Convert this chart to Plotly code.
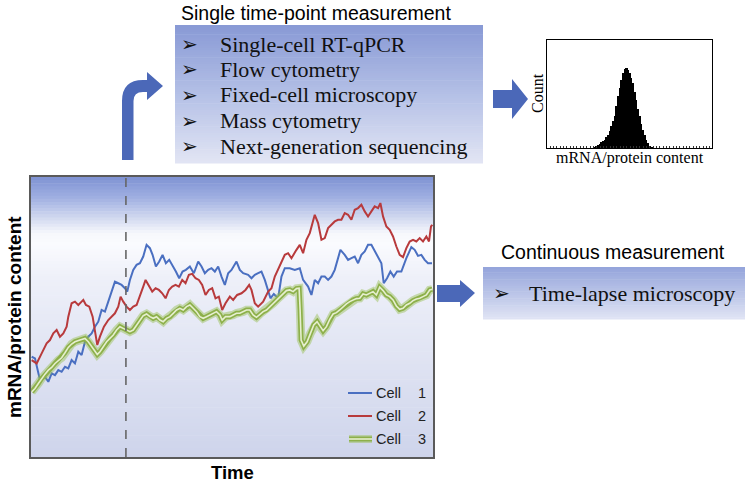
import plotly.graph_objects as go

W, H = 750, 485

# ---------------- data (arbitrary units) ----------------
cell1_t = [2,12,27,42,52,62,72,82,92,102,112,122,132,142,152,162,172,182,192,202,212,222,232,242,252,262,272,282,289,297,
           307,317,327,337,347,357,365,375,385,395,405,415,425,435,445,455,465,477,489,502,512,522,532,542,552,562,572,582,592,602,
           617,627,637,652,662,672,682,692,702,712,719,729,742,752,762,777,792,807,817,832,842,852,862,872,882,892,902,912,922,929,
           942,952,962,972,982,992,1002,1012,1022,1032,1042,1052,1059,1069,1079,1089,1099,1112,1127,1142,1152,1162,1172,1182,1192,1204]
cell1_v = [300,295,230,240,225,250,245,260,255,270,265,290,280,315,305,345,360,370,390,405,440,435,465,495,525,520,515,505,495,530,
           560,575,580,600,635,625,605,570,585,605,580,590,570,555,535,555,560,570,550,585,570,550,560,565,555,570,540,515,550,560,
           585,560,550,545,535,545,550,555,530,500,475,488,475,540,565,565,560,565,530,510,485,530,520,540,540,530,540,560,595,620,
           605,590,595,600,580,605,615,635,635,615,595,580,520,535,555,540,555,555,595,628,620,602,605,590,580,580]

cell2_t = [2,17,32,47,57,67,77,87,97,107,112,122,132,142,152,157,165,175,185,192,199,207,219,232,242,252,262,269,277,287,
           297,307,317,327,337,344,354,364,374,384,394,404,414,424,434,444,454,464,474,484,494,504,514,524,534,544,554,564,574,584,
           597,607,619,632,644,655,662,672,682,697,712,722,732,742,752,762,772,782,797,807,817,827,837,852,862,872,882,892,902,912,
           922,932,942,952,962,972,982,992,1002,1012,1022,1032,1042,1049,1057,1067,1077,1087,1097,1107,1117,1127,1137,1147,1157,1167,
           1177,1187,1195,1201,1205]
cell2_v = [290,280,310,340,350,370,380,360,370,390,420,460,465,455,465,470,455,450,420,370,335,360,390,410,420,430,450,480,465,450,
           440,450,455,480,510,530,510,495,505,500,490,475,500,510,515,510,530,520,545,548,535,530,515,485,500,505,475,480,440,460,
           480,470,485,490,500,515,500,460,450,465,495,505,540,560,585,605,610,595,620,635,610,650,670,725,700,650,655,685,695,705,
           710,710,730,725,710,740,745,755,735,720,735,750,745,760,720,690,680,660,630,605,598,625,645,650,645,655,
           645,660,645,690,695]

cell3_t = [2,12,22,32,42,52,62,72,82,92,102,112,122,132,147,162,172,182,192,199,207,217,227,237,247,257,267,277,287,297,
           307,317,327,337,347,357,367,377,387,397,407,417,427,437,447,457,467,477,487,497,507,517,527,537,547,557,567,574,584,597,
           607,617,627,637,647,657,667,677,687,697,707,717,727,737,747,757,767,777,787,797,805,808,811,819,829,839,849,859,869,877,
           887,897,907,917,927,937,947,957,967,977,987,997,1007,1017,1027,1037,1047,1057,1067,1077,1087,1097,1107,1117,1127,1137,
           1147,1157,1167,1177,1187,1197,1205]
cell3_v = [195,205,220,235,248,260,268,280,290,297,312,328,338,345,350,355,345,330,315,307,315,330,345,355,365,380,390,385,380,375,
           380,395,410,423,428,420,415,420,410,405,415,420,430,440,445,440,450,455,445,435,420,415,420,425,430,435,425,410,420,420,
           425,430,430,435,440,440,425,418,428,435,440,450,460,470,480,488,498,500,495,504,505,440,350,332,345,370,395,405,388,378,
           390,412,428,432,440,450,458,465,470,474,475,488,485,490,495,485,508,498,485,480,470,452,442,445,455,460,
           468,473,475,480,485,500,502]

hist_content = [34.5,35.0,35.5,36.0,36.5,37.0,37.5,38.0,38.5,39.0,39.5,40.0,40.5,41.0,41.5,42.0,42.5,43.0,
                43.5,44.0,44.5,45.0,45.5,46.0,46.5,47.0,47.5,48.0,48.5,49.0,49.5,50.0,50.5,51.0,51.5,52.0]
hist_count = [2,4,8,12,18,22,25,32,40,52,65,80,95,125,155,180,205,225,
              238,242,236,225,210,195,170,145,118,95,72,55,38,25,14,7,3,1]

snapshot_time = 285

single_methods = ["Single-cell RT-qPCR", "Flow cytometry", "Fixed-cell microscopy",
                  "Mass cytometry", "Next-generation sequencing"]
continuous_methods = ["Time-lapse microscopy"]
cell_labels = ["1", "2", "3"]

# ---------------- helpers ----------------
def fx(x):
    return x / W

def fy(y):
    return 1 - y / H

def P(x, y):
    return f"{fx(x):.5f},{fy(y):.5f}"

def interp(stops, f):
    for i in range(len(stops) - 1):
        a, ca = stops[i]
        b, cb = stops[i + 1]
        if a <= f <= b:
            t = (f - a) / (b - a) if b > a else 0
            c = [round(ca[k] + (cb[k] - ca[k]) * t) for k in range(3)]
            return f"rgb({c[0]},{c[1]},{c[2]})"
    c = stops[-1][1]
    return f"rgb({c[0]},{c[1]},{c[2]})"

shapes = []

def gradient(x0, x1, y0, y1, stops, n=60):
    for i in range(n):
        ya = y0 + (y1 - y0) * i / n
        yb = y0 + (y1 - y0) * (i + 1) / n
        f = (i + 0.5) / n
        shapes.append(dict(type="rect", xref="paper", yref="paper",
                           x0=fx(x0), x1=fx(x1), y0=fy(yb + 0.6), y1=fy(ya),
                           fillcolor=interp(stops, f), line_width=0, layer="below"))

# gradients
gradient(31, 433, 177, 457, [(0.0, (126, 146, 211)), (0.07, (158, 174, 225)), (0.14, (205, 213, 238)),
                              (0.2, (246, 247, 252)), (0.24, (250, 251, 254)), (0.36, (238, 240, 249)),
                              (1.0, (206, 212, 235))], n=90)
gradient(175, 483, 25, 163, [(0.0, (136, 153, 213)), (0.5, (180, 192, 230)), (1.0, (226, 229, 244))], n=60)
gradient(483, 745, 267, 319, [(0.0, (148, 164, 219)), (1.0, (224, 228, 244))], n=30)

arrow_col = "#4b68b8"
# bent arrow
shapes.append(dict(type="path", xref="paper", yref="paper", layer="above",
                   path=(f"M{P(122,160)} L{P(122,101)} Q{P(122,80)} {P(143,80)} L{P(147,80)} L{P(147,72)} "
                         f"L{P(163,86)} L{P(147,100)} L{P(147,92)} L{P(143,92)} Q{P(133.5,92)} {P(133.5,101)} "
                         f"L{P(133.5,160)} Z"),
                   fillcolor=arrow_col, line_width=0))
# right arrow to histogram
shapes.append(dict(type="path", xref="paper", yref="paper", layer="above",
                   path=(f"M{P(493,90)} L{P(512,90)} L{P(512,79)} L{P(528,99)} L{P(512,119)} "
                         f"L{P(512,108)} L{P(493,108)} Z"),
                   fillcolor=arrow_col, line_width=0))
# right arrow to continuous
shapes.append(dict(type="path", xref="paper", yref="paper", layer="above",
                   path=(f"M{P(437,285)} L{P(460,285)} L{P(460,280)} L{P(475,293)} L{P(460,307)} "
                         f"L{P(460,302)} L{P(437,302)} Z"),
                   fillcolor=arrow_col, line_width=0))

# snapshot dashed line
shapes.append(dict(type="line", xref="x", yref="paper", x0=snapshot_time, x1=snapshot_time,
                   y0=fy(457), y1=fy(177), line=dict(color="#666666", width=1.6, dash="dash"), layer="above"))

blue_c = "#4a6fc1"
red_c = "#b83a3c"
green_halo = "rgba(150,190,80,0.45)"
green_main = "#8db04a"
green_core = "#e6efcf"

# manual legend
leg_rows = [393, 416, 439]
shapes.append(dict(type="line", xref="paper", yref="paper", x0=fx(348), x1=fx(372), y0=fy(leg_rows[0]), y1=fy(leg_rows[0]),
                   line=dict(color=blue_c, width=2)))
shapes.append(dict(type="line", xref="paper", yref="paper", x0=fx(348), x1=fx(372), y0=fy(leg_rows[1]), y1=fy(leg_rows[1]),
                   line=dict(color=red_c, width=2)))
for col, wd in [(green_halo, 8), (green_main, 5), (green_core, 1.6)]:
    shapes.append(dict(type="line", xref="paper", yref="paper", x0=fx(349), x1=fx(372), y0=fy(leg_rows[2]), y1=fy(leg_rows[2]),
                       line=dict(color=col, width=wd)))

# ---------------- traces ----------------
fig = go.Figure()
fig.add_trace(go.Scatter(x=cell1_t, y=cell1_v, mode="lines", line=dict(color=blue_c, width=2), name="Cell 1",
                         showlegend=False, hoverinfo="skip"))
fig.add_trace(go.Scatter(x=cell2_t, y=cell2_v, mode="lines", line=dict(color=red_c, width=2), name="Cell 2",
                         showlegend=False, hoverinfo="skip"))
for col, wd in [(green_halo, 8.5), (green_main, 5), (green_core, 1.6)]:
    fig.add_trace(go.Scatter(x=cell3_t, y=cell3_v, mode="lines", line=dict(color=col, width=wd), name="Cell 3",
                             showlegend=False, hoverinfo="skip"))

fig.add_trace(go.Bar(x=hist_content, y=hist_count, marker=dict(color="black", line_width=0), width=0.5,
                     xaxis="x2", yaxis="y2", showlegend=False, hoverinfo="skip"))

# ---------------- annotations ----------------
sans = "Liberation Sans, Arial, sans-serif"
serif = "Liberation Serif, Times New Roman, serif"
ann = []

def txt(text, x, y, size, family, xanchor="center", color="black", angle=0, bold=False):
    ann.append(dict(text=(f"<b>{text}</b>" if bold else text), x=fx(x), y=fy(y), xref="paper", yref="paper",
                    xanchor=xanchor, yanchor="middle", showarrow=False, textangle=angle,
                    font=dict(size=size, family=family, color=color)))

txt("Single time-point measurement", 316, 13, 19.5, sans)
rows = [44, 69.5, 95, 120.5, 146]
for r, m in zip(rows, single_methods):
    txt("➢", 189, r, 20, "DejaVu Sans", color="#111111")
    txt(m, 218, r, 22, serif, xanchor="left", color="#111111")

txt("Continuous measurement", 613, 252, 19.5, sans)
txt("➢", 501, 293, 20, "DejaVu Sans", color="#111111")
txt(continuous_methods[0], 527, 293, 22, serif, xanchor="left", color="#111111")

txt("Count", 538, 93, 16, serif, angle=-90)
txt("mRNA/protein content", 630, 158, 16, serif)

txt("mRNA/protein content", 14, 317, 19, sans, angle=-90, bold=True)
txt("Time", 233, 472, 18.5, sans, bold=True)

for r, lab in zip(leg_rows, cell_labels):
    txt("Cell", 374, r, 14.5, sans, xanchor="left", color="#222222")
    txt(lab, 422, r, 14.5, sans, color="#222222")

axis_common = dict(showgrid=False, zeroline=False, showticklabels=False, fixedrange=True)

fig.update_layout(
    width=W, height=H,
    margin=dict(l=0, r=0, t=0, b=0),
    paper_bgcolor="white",
    plot_bgcolor="rgba(0,0,0,0)",
    showlegend=False,
    shapes=shapes,
    annotations=ann,
    bargap=0,
    xaxis=dict(domain=[fx(31), fx(433)], range=[0, 1207], showline=True, mirror=True,
               linecolor="#5a5a5a", linewidth=1.5, ticks="", anchor="y", **axis_common),
    yaxis=dict(domain=[fy(457), fy(177)], range=[0, 838], showline=True, mirror=True,
               linecolor="#5a5a5a", linewidth=1.5, ticks="", anchor="x", **axis_common),
    xaxis2=dict(domain=[fx(547), fx(712)], range=[20, 69.7], showline=True, mirror=True,
                linecolor="black", linewidth=1, ticks="inside", ticklen=2, dtick=1, tickcolor="#333",
                anchor="y2", **axis_common),
    yaxis2=dict(domain=[fy(148), fy(40)], range=[0, 325], showline=True, mirror=True,
                linecolor="black", linewidth=1, ticks="", anchor="x2", **axis_common),
)

fig.write_html("out.html", config={"displayModeBar": False},
               post_script="document.body.style.margin='0';document.body.style.padding='0';")
